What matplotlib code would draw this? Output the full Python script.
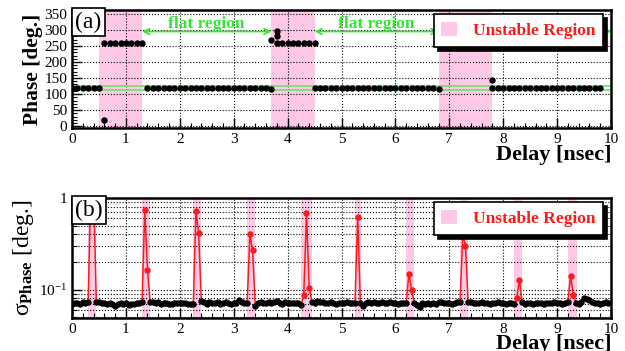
import numpy as np
import matplotlib
matplotlib.use("Agg")
import matplotlib.pyplot as plt
from matplotlib.patches import Patch
from matplotlib.ticker import MultipleLocator, FixedLocator, NullFormatter

plt.rcParams['font.family'] = ['Liberation Serif', 'DejaVu Serif']
plt.rcParams['mathtext.fontset'] = 'custom'
plt.rcParams['mathtext.rm'] = 'Liberation Serif'
plt.rcParams['mathtext.it'] = 'Liberation Serif'
plt.rcParams['mathtext.bf'] = 'Liberation Serif:bold'

# ---- panel (a): phase vs delay, main scan every 0.1 ns ----
delay_a = [0.0, 0.1, 0.2, 0.3, 0.4, 0.5, 0.6, 0.7, 0.8, 0.9,
           1.0, 1.1, 1.2, 1.3, 1.4, 1.5, 1.6, 1.7, 1.8, 1.9,
           2.0, 2.1, 2.2, 2.3, 2.4, 2.5, 2.6, 2.7, 2.8, 2.9,
           3.0, 3.1, 3.2, 3.3, 3.4, 3.5, 3.6, 3.7, 3.8, 3.9,
           4.0, 4.1, 4.2, 4.3, 4.4, 4.5, 4.6, 4.7, 4.8, 4.9,
           5.0, 5.1, 5.2, 5.3, 5.4, 5.5, 5.6, 5.7, 5.8, 5.9,
           6.0, 6.1, 6.2, 6.3, 6.4, 6.5, 6.6, 6.7, 6.8, 6.9,
           7.0, 7.1, 7.2, 7.3, 7.4, 7.5, 7.6, 7.7, 7.8, 7.9,
           8.0, 8.1, 8.2, 8.3, 8.4, 8.5, 8.6, 8.7, 8.8, 8.9,
           9.0, 9.1, 9.2, 9.3, 9.4, 9.5, 9.6, 9.7, 9.8]
phase_a = [119, 119, 119, 119, 119, 119, 18, 260, 260, 260,
           260, 260, 260, 260, 119, 119, 119, 119, 119, 119,
           119, 119, 119, 119, 119, 119, 119, 119, 119, 119,
           119, 119, 119, 119, 119, 119, 119, 115, 260, 260,
           260, 260, 260, 260, 260, 119, 119, 119, 119, 119,
           119, 119, 119, 119, 119, 119, 119, 119, 119, 119,
           119, 119, 119, 119, 119, 119, 119, 119, 115, 261,
           261, 261, 261, 261, 261, 261, 261, 261, 145, 119,
           119, 119, 119, 119, 119, 119, 119, 119, 119, 119,
           119, 119, 119, 119, 119, 119, 119, 119, 119]
# repeated / extra measurements
extra_delay = [0.6, 3.7, 3.8, 3.8, 4.5, 6.8, 7.8, 7.8,
               6.85, 6.95, 7.05, 7.15, 7.25, 7.35, 7.45, 7.55, 7.65, 7.75]
extra_phase = [260, 268, 297, 281, 260, 262, 119, 262,
               266, 266, 266, 266, 266, 266, 266, 266, 266, 266]

unstable_a = [(0.5, 1.3), (3.7, 4.5), (6.8, 7.8)]
flat_a = [(1.3, 3.7), (4.5, 6.8), (7.8, 10.0)]
band_lo, band_hi = 113, 125

# ---- panel (b): sigma of phase, scan every 0.05 ns ----
delay_b = np.round(np.arange(200) * 0.05, 2)
sigma_b = [
    0.070, 0.071, 0.072, 0.070, 0.073, 0.072, 0.074, 1.5, 1.5, 0.074,
    0.073, 0.072, 0.071, 0.070, 0.072, 0.069, 0.066, 0.070, 0.071, 0.069,
    0.071, 0.068, 0.070, 0.069, 0.072, 0.071, 0.074, 0.73, 0.165, 0.073,
    0.074, 0.072, 0.073, 0.070, 0.072, 0.071, 0.069, 0.070, 0.071, 0.072,
    0.071, 0.072, 0.071, 0.070, 0.070, 0.069, 0.72, 0.41, 0.075, 0.073,
    0.070, 0.074, 0.072, 0.071, 0.073, 0.070, 0.071, 0.074, 0.072, 0.070,
    0.072, 0.071, 0.078, 0.073, 0.071, 0.071, 0.40, 0.27, 0.067, 0.071,
    0.073, 0.072, 0.071, 0.073, 0.072, 0.074, 0.076, 0.072, 0.070, 0.073,
    0.071, 0.072, 0.072, 0.071, 0.072, 0.068, 0.087, 0.68, 0.105, 0.074,
    0.072, 0.075, 0.074, 0.073, 0.072, 0.071, 0.073, 0.072, 0.070, 0.071,
    0.072, 0.071, 0.073, 0.072, 0.071, 0.072, 0.62, 0.072, 0.067, 0.071,
    0.073, 0.071, 0.074, 0.072, 0.071, 0.073, 0.072, 0.071, 0.073, 0.072,
    0.071, 0.070, 0.072, 0.071, 0.071, 0.149, 0.100, 0.072, 0.068, 0.065,
    0.071, 0.070, 0.072, 0.069, 0.071, 0.070, 0.073, 0.074, 0.071, 0.072,
    0.071, 0.070, 0.072, 0.073, 0.074, 0.40, 0.30, 0.073, 0.073, 0.072,
    0.071, 0.072, 0.073, 0.072, 0.071, 0.070, 0.072, 0.071, 0.073, 0.072,
    0.071, 0.070, 0.071, 0.072, 0.069, 0.080, 0.128, 0.073, 0.070, 0.071,
    0.072, 0.070, 0.071, 0.072, 0.071, 0.070, 0.071, 0.072, 0.071, 0.073,
    0.072, 0.071, 0.070, 0.071, 0.073, 0.142, 0.088, 0.072, 0.070, 0.073,
    0.081, 0.079, 0.077, 0.074, 0.072, 0.071, 0.070, 0.072, 0.074, 0.071]
# indices of unstable points in each band
unstable_idx = [[7, 8], [27, 28], [46, 47], [66, 67], [86, 87, 88],
                [106], [125, 126], [145, 146], [165, 166], [185, 186]]
unstable_b = [(0.30, 0.45), (1.30, 1.45), (2.25, 2.40), (3.25, 3.40), (4.25, 4.45),
              (5.25, 5.37), (6.20, 6.35), (7.20, 7.35), (8.20, 8.35), (9.20, 9.36)]

pink = '#ffc8e6'
green = '#2ee82e'
red = '#ff1a1a'


def style_axes(ax):
    for s in ax.spines.values():
        s.set_linewidth(1.8)
    ax.tick_params(which='both', direction='in', labelsize=11, top=False, right=False)
    ax.tick_params(which='major', length=7, width=1)
    ax.tick_params(which='minor', length=3.5, width=0.8)
    ax.set_xlim(0, 10)
    ax.xaxis.set_major_locator(MultipleLocator(1))
    ax.xaxis.set_minor_locator(MultipleLocator(0.2))
    ax.set_xlabel('Delay [nsec]', loc='right', fontsize=16, fontweight='bold', labelpad=-1)


def add_legend(ax):
    h = [Patch(facecolor=pink, edgecolor='none')]
    leg = ax.legend(h, ['Unstable Region'], loc='upper right', bbox_to_anchor=(0.985, 0.965),
                    borderaxespad=0, fancybox=False, edgecolor='black', framealpha=1,
                    shadow={'color': 'black', 'alpha': 1, 'ox': 3, 'oy': -3},
                    prop={'weight': 'bold', 'size': 12.5}, handlelength=0.9, handleheight=0.9,
                    borderpad=0.45, handletextpad=0.9)
    leg.get_frame().set_linewidth(1.2)
    leg.get_texts()[0].set_color(red)
    leg.set_zorder(10)


def panel_label(ax, s):
    ax.text(0.006, 0.985, s, transform=ax.transAxes, ha='left', va='top', fontsize=17, zorder=11,
            bbox=dict(boxstyle='square,pad=0.15', fc='white', ec='black', lw=1.2))


fig = plt.figure(figsize=(6.25, 3.51), dpi=100)
ax1 = fig.add_axes([0.1152, 0.635, 0.8624, 0.3365])
ax2 = fig.add_axes([0.1152, 0.094, 0.8624, 0.342])

# ---- panel (a) ----
for lo, hi in unstable_a:
    ax1.axvspan(lo, hi, color=pink, lw=0, zorder=0)
ax1.axhline(band_lo, color='#70e070', lw=1.2, zorder=2)
ax1.axhline(band_hi, color='#70e070', lw=1.2, zorder=2)
ax1.plot(delay_a, phase_a, 'o', color='black', ms=3.6, zorder=4)
ax1.plot(extra_delay, extra_phase, 'o', color='black', ms=3.6, zorder=4)
for lo, hi in flat_a:
    ax1.annotate('', xy=(lo, 295), xytext=(hi, 295),
                 arrowprops=dict(arrowstyle='<->', color=green, lw=1.2, shrinkA=0, shrinkB=0), zorder=3)
for lo, hi in flat_a[:2]:
    ax1.text((lo + hi) / 2, 305, 'flat region', color=green, fontsize=12.5, fontweight='bold',
             ha='center', va='baseline', zorder=3)
ax1.set_ylim(-6, 362)
ax1.yaxis.set_major_locator(MultipleLocator(50))
ax1.yaxis.set_minor_locator(MultipleLocator(10))
ax1.grid(True, which='major', color='black', ls=':', lw=0.8)
style_axes(ax1)
ax1.set_ylabel('Phase [deg.]', fontsize=15.5, fontweight='bold', labelpad=1)
add_legend(ax1)
panel_label(ax1, '(a)')

# ---- panel (b) ----
for lo, hi in unstable_b:
    ax2.axvspan(lo, hi, color=pink, lw=0, zorder=0)
sigma_arr = np.array(sigma_b)
stable = sigma_arr.copy()
for idx in unstable_idx:
    stable[idx] = np.nan
for idx in unstable_idx:
    seg = list(range(idx[0] - 1, idx[-1] + 2))
    ax2.plot(delay_b[seg], sigma_arr[seg], '-', color=red, lw=1.1, zorder=3)
    ax2.plot(delay_b[idx], sigma_arr[idx], 'o', color=red, ms=3.6, zorder=4)
ax2.plot(delay_b, stable, '-o', color='black', lw=1.1, ms=3.6, zorder=5)
ax2.set_yscale('log')
ax2.set_ylim(0.049, 1.0)
ax2.yaxis.set_major_locator(FixedLocator([0.1, 1.0]))
ax2.set_yticklabels([r'$10^{-1}$', '1'])
ax2.yaxis.set_minor_locator(FixedLocator([0.05, 0.06, 0.07, 0.08, 0.09, 0.2, 0.3, 0.4, 0.5, 0.6, 0.7, 0.8, 0.9]))
ax2.yaxis.set_minor_formatter(NullFormatter())
ax2.grid(True, which='major', color='black', ls=':', lw=0.8)
ax2.grid(True, which='minor', axis='y', color='black', ls=':', lw=0.8)
style_axes(ax2)
ax2.set_ylabel(r'$\sigma_{\mathbf{Phase}}$ [deg.]', fontsize=17, labelpad=2)
add_legend(ax2)
panel_label(ax2, '(b)')

fig.savefig('out.png', dpi=100)
